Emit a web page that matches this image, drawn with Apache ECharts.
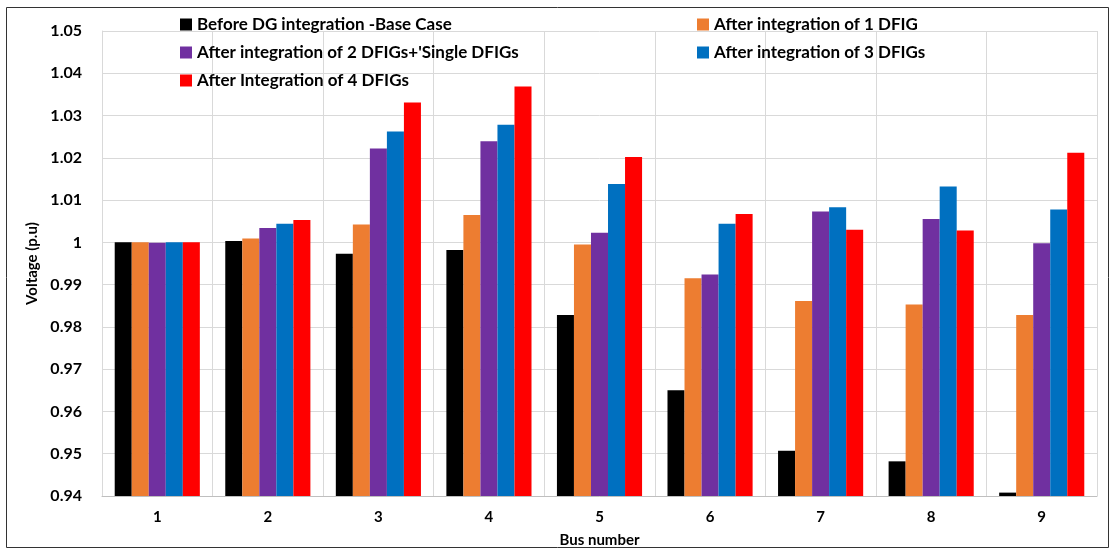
<!DOCTYPE html>
<html>
<head>
<meta charset="utf-8">
<script src="https://cdn.jsdelivr.net/npm/echarts@6/dist/echarts.min.js"></script>
<style>
html,body{margin:0;padding:0;background:#fff;}
#chart{width:1115px;height:553px;}
</style>
</head>
<body>
<div id="chart"></div>
<script>
const categories = ['1','2','3','4','5','6','7','8','9'];
const seriesNames = [
  'Before DG integration -Base Case',
  'After integration of 1 DFIG',
  "After integration of 2 DFIGs+'Single DFIGs",
  'After integration of 3 DFIGs',
  'After Integration of 4 DFIGs'
];
const baseCase   = [1.0000, 1.0003, 0.9973, 0.9982, 0.9828, 0.9650, 0.9507, 0.9482, 0.9408];
const oneDFIG    = [1.0000, 1.0009, 1.0042, 1.0065, 0.9995, 0.9915, 0.9861, 0.9853, 0.9828];
const twoDFIGs   = [0.9999, 1.0034, 1.0222, 1.0239, 1.0023, 0.9924, 1.0073, 1.0055, 0.9998];
const threeDFIGs = [1.0000, 1.0044, 1.0262, 1.0278, 1.0138, 1.0044, 1.0083, 1.0132, 1.0078];
const fourDFIGs  = [1.0000, 1.0053, 1.0331, 1.0369, 1.0202, 1.0067, 1.0030, 1.0028, 1.0212];
const yTicks = {min: 0.94, max: 1.05, interval: 0.01};

const colors = ['#000000', '#ED7D31', '#7030A0', '#0070C0', '#FF0000'];
const dataSets = [baseCase, oneDFIG, twoDFIGs, threeDFIGs, fourDFIGs];
const FONT = 'Lato';

const chart = echarts.init(document.getElementById('chart'), null, {renderer: 'canvas'});
const legendText = {fontFamily: FONT, fontWeight: 'bold', fontSize: 17, color: '#000'};
chart.setOption({
  animation: false,
  color: colors,
  graphic: [{
    type: 'rect',
    shape: {x: 6.5, y: 7.5, width: 1102, height: 540},
    style: {fill: 'none', stroke: '#333', lineWidth: 1}
  }],
  legend: [{
    orient: 'vertical',
    left: 175, top: 11,
    itemWidth: 12, itemHeight: 12, itemGap: 11,
    icon: 'rect',
    data: [seriesNames[0], seriesNames[2], seriesNames[4]],
    textStyle: legendText
  }, {
    orient: 'vertical',
    left: 692, top: 11,
    itemWidth: 12, itemHeight: 12, itemGap: 11,
    icon: 'rect',
    data: [seriesNames[1], seriesNames[3]],
    textStyle: legendText
  }],
  grid: {left: 102, right: 18, top: 31, bottom: 56},
  xAxis: {
    type: 'category',
    data: categories,
    name: 'Bus number',
    nameLocation: 'middle',
    nameGap: 37,
    nameTextStyle: {fontFamily: FONT, fontWeight: 'bold', fontSize: 15, color: '#000'},
    axisLine: {lineStyle: {color: '#bfbfbf', width: 1}},
    axisTick: {show: false},
    axisLabel: {fontFamily: FONT, fontWeight: 'bold', fontSize: 15, color: '#000', margin: 14},
    splitLine: {show: true, lineStyle: {color: '#d9d9d9', width: 1}}
  },
  yAxis: {
    type: 'value',
    min: yTicks.min, max: yTicks.max, interval: yTicks.interval,
    name: 'Voltage (p.u)',
    nameLocation: 'middle',
    nameGap: 58,
    nameRotate: 90,
    nameTextStyle: {fontFamily: FONT, fontWeight: 'bold', fontSize: 15, color: '#000'},
    axisLine: {show: true, lineStyle: {color: '#d9d9d9'}},
    axisTick: {show: false},
    axisLabel: {
      fontFamily: FONT, fontWeight: 'bold', fontSize: 16, color: '#000', margin: 20,
      formatter: v => String(parseFloat(v.toFixed(2)))
    },
    splitLine: {lineStyle: {color: '#d9d9d9', width: 1}}
  },
  series: seriesNames.map((name, i) => ({
    name: name,
    type: 'bar',
    data: dataSets[i],
    barGap: '0%',
    barCategoryGap: '23%',
    itemStyle: {color: colors[i]}
  }))
});
</script>
</body>
</html>
